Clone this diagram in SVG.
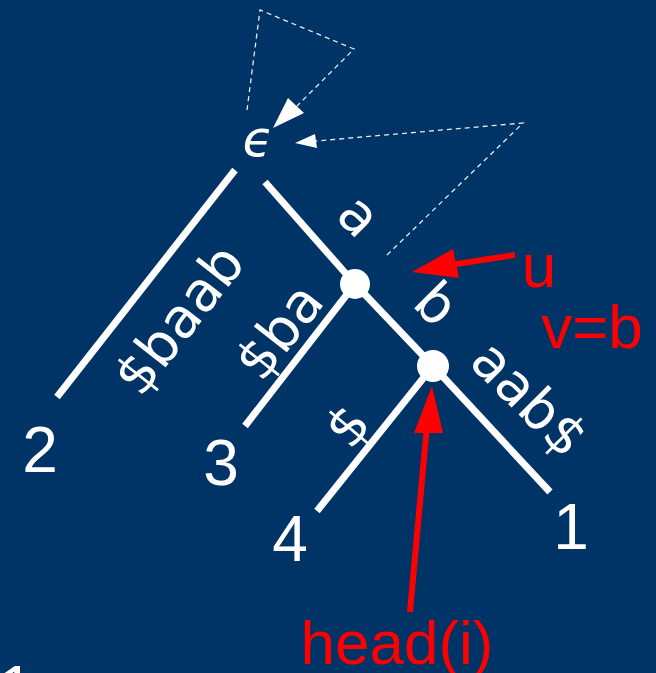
<svg xmlns="http://www.w3.org/2000/svg" width="656" height="673" viewBox="0 0 656 673">
<style>
.bg{fill:#003366}
.edge{stroke:#fff;stroke-width:7;stroke-linecap:butt;fill:none}
.dash{stroke:#fff;stroke-width:1.3;stroke-dasharray:5,4;fill:none;opacity:0.9}
.w{fill:#fff;font-family:"DejaVu Sans",sans-serif}
.lab{fill:#fff;font-family:"DejaVu Sans",sans-serif;font-size:55px;text-anchor:middle}
.d{fill:#fff;font-family:"Liberation Sans",Arial,sans-serif;font-size:64px;text-anchor:middle}
.r{fill:#ff0000;font-family:"Liberation Sans",Arial,sans-serif}
.red{stroke:#ff0000;stroke-width:6;fill:none}
</style>
<rect class="bg" x="0" y="0" width="656" height="673"/>
<g id="connectors">
<line class="edge" x1="235" y1="170" x2="57" y2="397"/>
<line class="edge" x1="265" y1="182" x2="355" y2="284"/>
<line class="edge" x1="355" y1="284" x2="433" y2="366"/>
<line class="edge" x1="433" y1="366" x2="550" y2="492"/>
<line class="edge" x1="355" y1="284" x2="245" y2="426"/>
<line class="edge" x1="433" y1="366" x2="317" y2="511"/>
<polyline class="dash" points="247,110 260,10 354,49 297,106"/>
<polygon points="273,128 288,98 304,113" fill="#fff"/>
<polyline class="dash" points="387,255 523,123 316,141"/>
<polygon points="295,143 315,134 317,148" fill="#fff"/>
<line class="red" x1="515" y1="255" x2="450" y2="265"/>
<polygon points="412,272 453,249 459,278" fill="#ff0000"/>
<line class="red" x1="410" y1="612" x2="427" y2="425"/>
<polygon points="432,386 414,433 443,433" fill="#ff0000"/>
</g>
<g id="root"><text class="w" x="258" y="156" font-size="50" font-style="italic" text-anchor="middle">ϵ</text></g>
<g id="n1"><circle cx="355" cy="284" r="15" fill="#fff"/></g>
<g id="n2"><circle cx="433" cy="366" r="16" fill="#fff"/></g>
<g id="leaf2"><text class="d" x="40" y="472">2</text></g>
<g id="leaf3"><text class="d" x="221" y="485">3</text></g>
<g id="leaf4"><text class="d" x="290" y="561">4</text></g>
<g id="leaf1"><text class="d" x="571" y="549">1</text></g>
<g id="labels">
<text class="lab" transform="translate(194,331) rotate(-52)">$baab</text>
<text class="lab" transform="translate(294,343) rotate(-52)">$ba</text>
<text class="lab" transform="translate(346,229) rotate(45)">a</text>
<text class="lab" transform="translate(423,317) rotate(45)">b</text>
<text class="lab" transform="translate(516,412) rotate(45)">aab$</text>
<text class="lab" transform="translate(362,438) rotate(-50)">$</text>
<text class="r" x="539" y="287" font-size="62" text-anchor="middle">u</text>
<text class="r" x="592" y="348" font-size="62" text-anchor="middle">v=b</text>
<text class="r" x="397" y="664" font-size="62" text-anchor="middle">head(i)</text>
<text class="d" x="16" y="711">1</text>
</g>
</svg>
